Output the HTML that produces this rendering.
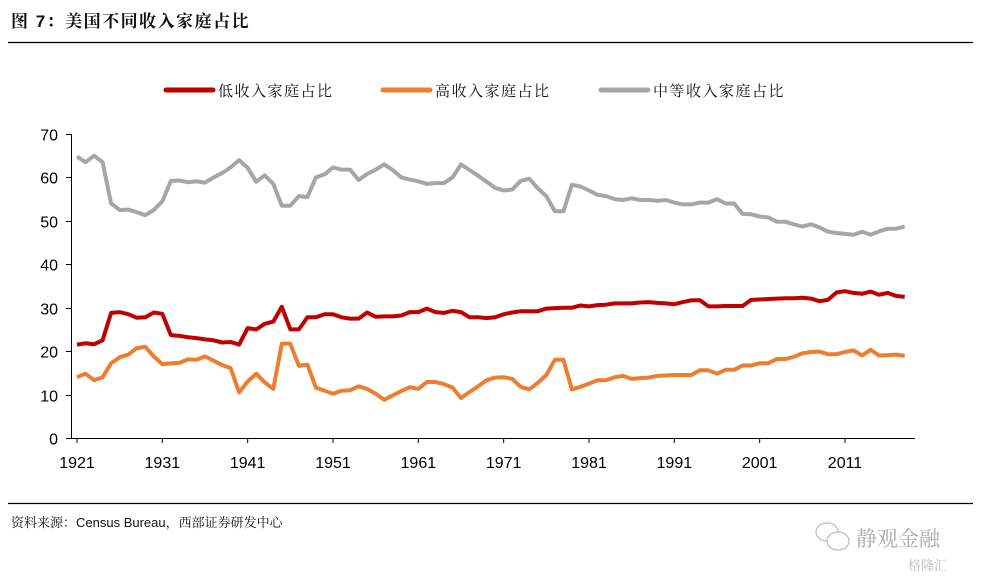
<!DOCTYPE html>
<html><head><meta charset="utf-8">
<style>
body{margin:0;background:#fff;width:982px;height:579px;overflow:hidden;font-family:"Liberation Sans","Noto Serif CJK SC",serif;}
svg text{font-family:"Liberation Sans","Noto Serif CJK SC",serif;}
</style></head>
<body>
<svg id="chart" width="982" height="579" xmlns="http://www.w3.org/2000/svg">
<text x="11" y="27" font-size="17" fill="#111" font-weight="bold" letter-spacing="1.5">图 7：美国不同收入家庭占比</text>
<line x1="8" y1="42.5" x2="973" y2="42.5" stroke="#000" stroke-width="1.3"/>
<g id="legend">
<line x1="166" y1="90" x2="213" y2="90" stroke="#c00000" stroke-width="5" stroke-linecap="round"/>
<text x="218" y="96" font-size="15" fill="#111" letter-spacing="1.5">低收入家庭占比</text>
<line x1="383" y1="90" x2="430" y2="90" stroke="#ed7d31" stroke-width="5" stroke-linecap="round"/>
<text x="435" y="96" font-size="15" fill="#111" letter-spacing="1.5">高收入家庭占比</text>
<line x1="601" y1="90" x2="648" y2="90" stroke="#a6a6a6" stroke-width="5" stroke-linecap="round"/>
<text x="653" y="96" font-size="15" fill="#111" letter-spacing="1.5">中等收入家庭占比</text>
</g>
<g id="axes"></g>
<g id="series"></g>
<line x1="8" y1="503.5" x2="973" y2="503.5" stroke="#000" stroke-width="1.3"/>
<text x="11" y="527" font-size="13" fill="#111">资料来源：Census Bureau，西部证券研发中心</text>
<g fill="none" stroke="#bbb" stroke-width="1.2">
<ellipse cx="827" cy="532" rx="11" ry="9"/>
<ellipse cx="838" cy="541" rx="11" ry="9" fill="#fff"/>
</g>
<text x="856" y="546" font-size="21" fill="#aaa">静观金融</text>
<text x="908" y="570" font-size="13" fill="#bbb">格隆汇</text>
</svg>
<script>
const startYear = 1921;
const xTickLabels = ["1921","1931","1941","1951","1961","1971","1981","1991","2001","2011"];
const yTickLabels = [0,10,20,30,40,50,60,70];
const lowShare = [21.5,21.8,21.6,22.5,28.8,29,28.5,27.7,27.8,28.9,28.6,23.7,23.5,23.2,23,22.7,22.5,22,22.1,21.5,25.3,25,26.3,26.8,30.2,25,25,27.8,27.8,28.5,28.5,27.8,27.5,27.5,28.9,27.9,28,28,28.2,29,29,29.8,29,28.8,29.3,29,27.8,27.8,27.6,27.8,28.5,28.9,29.2,29.2,29.2,29.8,29.9,30,30,30.5,30.3,30.6,30.7,31,31,31,31.2,31.3,31.1,31,30.8,31.3,31.7,31.7,30.3,30.3,30.4,30.4,30.4,31.8,31.9,32,32.1,32.2,32.2,32.3,32.1,31.5,31.8,33.5,33.8,33.4,33.2,33.7,33,33.4,32.7,32.5];
const highShare = [14,14.8,13.3,14,17.2,18.6,19.2,20.7,21,18.8,17,17.2,17.3,18.1,18,18.8,17.8,16.8,16.1,10.5,13,14.8,12.8,11.3,21.7,21.7,16.6,16.9,11.6,10.9,10.2,10.9,11,11.9,11.3,10.2,8.8,9.8,10.8,11.7,11.3,12.9,12.9,12.4,11.6,9.2,10.6,11.9,13.3,13.9,14,13.6,11.8,11.2,12.7,14.5,18,18,11.2,11.8,12.5,13.3,13.3,14,14.3,13.6,13.8,13.9,14.3,14.4,14.5,14.5,14.5,15.6,15.6,14.8,15.7,15.7,16.7,16.7,17.2,17.2,18.2,18.2,18.7,19.5,19.8,19.9,19.3,19.3,19.8,20.2,19,20.3,19,19.1,19.2,18.9];
const middleShare = [64.8,63.5,65,63.5,54,52.5,52.6,52,51.3,52.5,54.5,59.2,59.3,58.9,59.1,58.8,60,61,62.3,64,62.2,59,60.5,58.5,53.5,53.5,55.7,55.5,60,60.7,62.3,61.8,61.8,59.4,60.8,61.8,63,61.7,60,59.5,59.1,58.5,58.7,58.7,60,63,61.7,60.4,59,57.6,57,57.2,59.2,59.7,57.5,55.7,52.2,52.2,58.3,57.9,57,56,55.7,55,54.8,55.2,54.8,54.8,54.6,54.8,54.2,53.8,53.8,54.2,54.2,55,54,54,51.6,51.5,51,50.8,49.8,49.8,49.2,48.7,49.2,48.5,47.5,47.2,47,46.8,47.5,46.8,47.6,48.2,48.2,48.7];

const NS="http://www.w3.org/2000/svg";
const x0=77, pxPerYear=768/90, y0=438, pxPerUnit=304/70;
function xs(i){return x0+i*pxPerYear;}
function ys(v){return y0-v*pxPerUnit;}
function mk(tag,attrs,parent){const e=document.createElementNS(NS,tag);for(const k in attrs)e.setAttribute(k,attrs[k]);parent.appendChild(e);return e;}
const axes=document.getElementById('axes');
let yl=mk('line',{x1:71.5,y1:ys(70),x2:71.5,y2:y0+0.5,stroke:'#000','stroke-width':1},axes);


let xl=mk('line',{x1:71,y1:y0+0.5,x2:915,y2:y0+0.5,stroke:'#000','stroke-width':1},axes);


yTickLabels.forEach(v=>{
  const y=Math.round(ys(v))+0.5;
  const t=mk('line',{x1:66,y1:y,x2:71,y2:y,stroke:'#000'},axes);
  
  
  const tx=mk('text',{x:58,y:y+6,'font-size':16,'text-anchor':'end',fill:'#000'},axes);
  tx.textContent=v;
  
  
});
xTickLabels.forEach(lab=>{
  const i=parseInt(lab)-startYear;
  const x=xs(i);
  const t=mk('line',{x1:x,y1:y0,x2:x,y2:y0+5,stroke:'#000'},axes);
  
  
  const tx=mk('text',{x:x,y:468,'font-size':16,'text-anchor':'middle',fill:'#000'},axes);
  tx.textContent=lab;
  
  
});
const series=document.getElementById('series');
[[middleShare,'#a6a6a6','middle-income-line'],[highShare,'#ed7d31','high-income-line'],[lowShare,'#c00000','low-income-line']].forEach(([d,c,n])=>{
  const pts=d.map((v,i)=>xs(i).toFixed(1)+','+ys(v).toFixed(1)).join(' ');
  const p=mk('polyline',{points:pts,fill:'none',stroke:c,'stroke-width':4,'stroke-linejoin':'round'},series);
  
  
});
</script>
</body></html>
